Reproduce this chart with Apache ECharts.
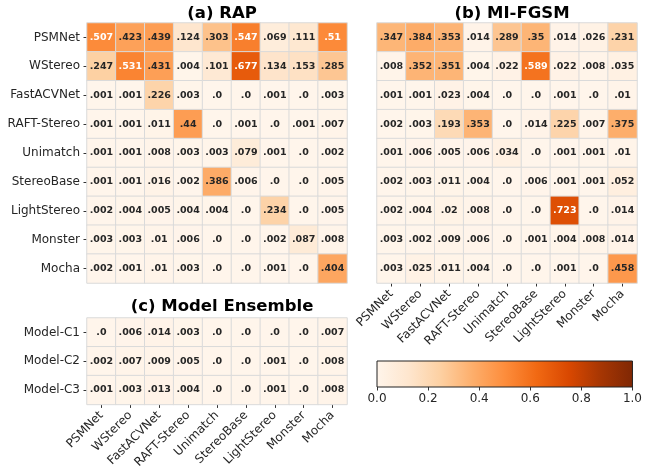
<!DOCTYPE html>
<html>
<head>
<meta charset="utf-8">
<script src="https://cdn.jsdelivr.net/npm/echarts@6/dist/echarts.min.js"></script>
<style>
  html, body { margin: 0; padding: 0; background: #fff; }
  #chart { width: 645px; height: 471px; }
</style>
</head>
<body>
<div id="chart"></div>
<script>
// Target models (columns) and source models (rows)
const targetModels = ['PSMNet', 'WStereo', 'FastACVNet', 'RAFT-Stereo', 'Unimatch', 'StereoBase', 'LightStereo', 'Monster', 'Mocha'];
const sourceModels = ['PSMNet', 'WStereo', 'FastACVNet', 'RAFT-Stereo', 'Unimatch', 'StereoBase', 'LightStereo', 'Monster', 'Mocha'];
const ensembleModels = ['Model-C1', 'Model-C2', 'Model-C3'];

// (a) RAP
const rapValues = [
  [0.507, 0.423, 0.439, 0.124, 0.303, 0.547, 0.069, 0.111, 0.51],
  [0.247, 0.531, 0.431, 0.004, 0.101, 0.677, 0.134, 0.153, 0.285],
  [0.001, 0.001, 0.226, 0.003, 0, 0, 0.001, 0, 0.003],
  [0.001, 0.001, 0.011, 0.44, 0, 0.001, 0, 0.001, 0.007],
  [0.001, 0.001, 0.008, 0.003, 0.003, 0.079, 0.001, 0, 0.002],
  [0.001, 0.001, 0.016, 0.002, 0.386, 0.006, 0, 0, 0.005],
  [0.002, 0.004, 0.005, 0.004, 0.004, 0, 0.234, 0, 0.005],
  [0.003, 0.003, 0.01, 0.006, 0, 0, 0.002, 0.087, 0.008],
  [0.002, 0.001, 0.01, 0.003, 0, 0, 0.001, 0, 0.404]
];

// (b) MI-FGSM
const mifgsmValues = [
  [0.347, 0.384, 0.353, 0.014, 0.289, 0.35, 0.014, 0.026, 0.231],
  [0.008, 0.352, 0.351, 0.004, 0.022, 0.589, 0.022, 0.008, 0.035],
  [0.001, 0.001, 0.023, 0.004, 0, 0, 0.001, 0, 0.01],
  [0.002, 0.003, 0.193, 0.353, 0, 0.014, 0.225, 0.007, 0.375],
  [0.001, 0.006, 0.005, 0.006, 0.034, 0, 0.001, 0.001, 0.01],
  [0.002, 0.003, 0.011, 0.004, 0, 0.006, 0.001, 0.001, 0.052],
  [0.002, 0.004, 0.02, 0.008, 0, 0, 0.723, 0, 0.014],
  [0.003, 0.002, 0.009, 0.006, 0, 0.001, 0.004, 0.008, 0.014],
  [0.003, 0.025, 0.011, 0.004, 0, 0, 0.001, 0, 0.458]
];

// (c) Model Ensemble
const ensembleValues = [
  [0, 0.006, 0.014, 0.003, 0, 0, 0, 0, 0.007],
  [0.002, 0.007, 0.009, 0.005, 0, 0, 0.001, 0, 0.008],
  [0.001, 0.003, 0.013, 0.004, 0, 0, 0.001, 0, 0.008]
];

// Colour bar ticks
const colorbarTicks = [0, 0.2, 0.4, 0.6, 0.8, 1.0];

// "Oranges" sequential palette
const oranges = ['#fff5eb', '#fee6ce', '#fdd0a2', '#fdae6b', '#fd8d3c', '#f16913', '#d94801', '#a63603', '#7f2704'];

const FONT = 'DejaVu Sans';

function fmt(v) {
  return v === 0 ? '.0' : String(v).replace(/^0/, '');
}

function toCells(matrix) {
  const out = [];
  matrix.forEach((row, r) => {
    row.forEach((v, c) => {
      out.push({
        value: [c, r, v],
        label: { color: v > 0.5 ? '#ffffff' : '#262626' }
      });
    });
  });
  return out;
}

const grids = [
  { left: 87, top: 23, width: 260, height: 260 },
  { left: 377, top: 23, width: 260, height: 260 },
  { left: 87, top: 318, width: 260, height: 86.7 },
  {
    left: 377, top: 361, width: 260, height: 26, show: true,
    backgroundColor: new echarts.graphic.LinearGradient(0, 0, 1, 0,
      oranges.map((c, i) => ({ offset: i / (oranges.length - 1), color: c }))),
    borderColor: '#222', borderWidth: 1
  }
];

const catLabel = { fontFamily: FONT, fontSize: 12, color: '#262626' };
const tickStyle = { show: true, length: 3.5, alignWithLabel: true, lineStyle: { color: '#333', width: 1 } };

function xCat(gridIndex, showLabels) {
  return {
    type: 'category', gridIndex, data: targetModels, position: 'bottom',
    axisLine: { show: false },
    axisTick: showLabels ? tickStyle : { show: false },
    axisLabel: showLabels ? Object.assign({ rotate: 45, margin: 9, interval: 0 }, catLabel) : { show: false },
    splitLine: { show: false }
  };
}
function yCat(gridIndex, data, showLabels) {
  return {
    type: 'category', gridIndex, data, inverse: true,
    axisLine: { show: false },
    axisTick: showLabels ? tickStyle : { show: false },
    axisLabel: showLabels ? Object.assign({ margin: 7, interval: 0 }, catLabel) : { show: false },
    splitLine: { show: false }
  };
}

const heatLabel = {
  show: true,
  fontFamily: FONT,
  fontWeight: 'bold',
  fontSize: 9.5,
  formatter: p => fmt(p.value[2])
};
const cellStyle = { borderColor: '#dadada', borderWidth: 1 };

const titleStyle = { fontFamily: FONT, fontWeight: 'bold', fontSize: 16.5, color: '#000' };

const option = {
  backgroundColor: '#ffffff',
  animation: false,
  title: [
    { text: '(a) RAP', left: 217, top: 0, textAlign: 'center', textStyle: titleStyle },
    { text: '(b) MI-FGSM', left: 507, top: 0, textAlign: 'center', textStyle: titleStyle },
    { text: '(c) Model Ensemble', left: 217, top: 293, textAlign: 'center', textStyle: titleStyle }
  ],
  grid: grids,
  xAxis: [
    xCat(0, false),
    xCat(1, true),
    xCat(2, true),
    {
      type: 'value', gridIndex: 3, min: 0, max: 1, interval: 0.2, position: 'bottom',
      axisLine: { show: false },
      axisTick: { show: true, length: 3.5, lineStyle: { color: '#333' } },
      axisLabel: { fontFamily: FONT, fontSize: 12, color: '#262626', margin: 6,
        formatter: v => colorbarTicks.indexOf(v) >= 0 ? v.toFixed(1) : '' },
      splitLine: { show: false }
    }
  ],
  yAxis: [
    yCat(0, sourceModels, true),
    yCat(1, sourceModels, false),
    yCat(2, ensembleModels, true),
    { type: 'value', gridIndex: 3, min: 0, max: 1, show: false }
  ],
  visualMap: {
    show: false,
    type: 'continuous',
    min: 0, max: 1,
    seriesIndex: [0, 1, 2],
    dimension: 2,
    inRange: { color: oranges }
  },
  series: [
    { type: 'heatmap', xAxisIndex: 0, yAxisIndex: 0, data: toCells(rapValues), label: heatLabel, itemStyle: cellStyle },
    { type: 'heatmap', xAxisIndex: 1, yAxisIndex: 1, data: toCells(mifgsmValues), label: heatLabel, itemStyle: cellStyle },
    { type: 'heatmap', xAxisIndex: 2, yAxisIndex: 2, data: toCells(ensembleValues), label: heatLabel, itemStyle: cellStyle }
  ]
};

const chart = echarts.init(document.getElementById('chart'), null, { renderer: 'canvas' });
chart.setOption(option);
</script>
</body>
</html>
